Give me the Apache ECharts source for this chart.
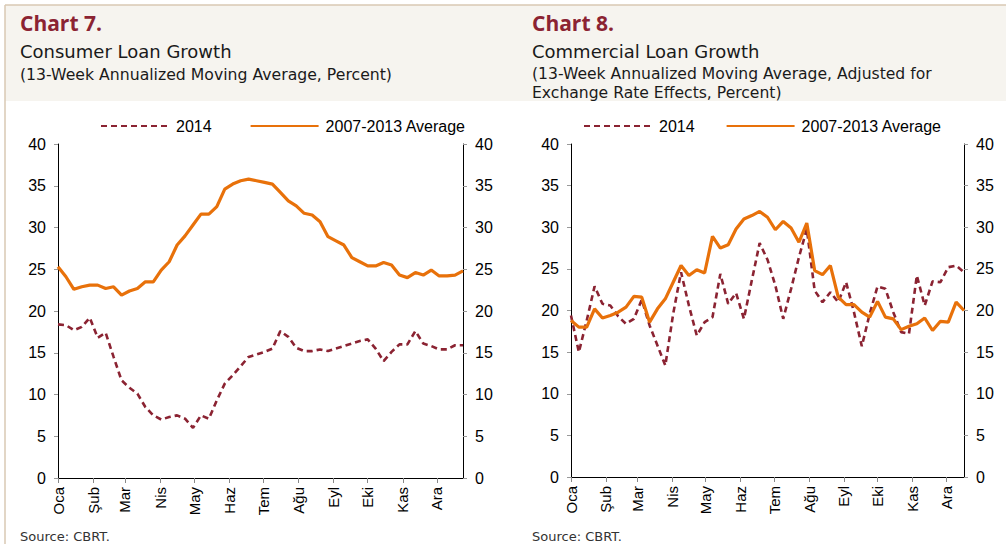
<!DOCTYPE html>
<html>
<head>
<meta charset="utf-8">
<script src="https://cdn.jsdelivr.net/npm/echarts@6/dist/echarts.min.js"></script>
<style>
  html, body { margin: 0; padding: 0; background: #fff; }
  #container { width: 1006px; height: 544px; }
</style>
</head>
<body>
<div id="container"></div>
<script>
// month tick positions in weeks from the first week of the year
const monthNames = ["Oca", "Şub", "Mar", "Nis", "May", "Haz", "Tem", "Ağu", "Eyl", "Eki", "Kas", "Ara"];
const monthWeeks = [0, 4.43, 8.43, 12.86, 17.14, 21.57, 25.86, 30.29, 34.71, 39, 43.43, 47.71];
const yTicks = [0, 5, 10, 15, 20, 25, 30, 35, 40];

// Chart 7 - consumer loans (52 weeks)
const consumer2014 = [18.4, 18.3, 17.7, 18.1, 19.2, 16.8, 17.4, 14.5, 11.7, 10.8,
  10.1, 8.5, 7.5, 7.0, 7.3, 7.5, 7.1, 6.0, 7.5, 7.1,
  9.3, 11.3, 12.3, 13.4, 14.5, 14.8, 15.1, 15.5, 17.6, 16.9,
  15.6, 15.2, 15.2, 15.4, 15.2, 15.5, 15.8, 16.1, 16.4, 16.6,
  15.5, 14.0, 15.1, 16.0, 16.0, 17.6, 16.1, 15.8, 15.4, 15.4,
  15.9, 15.9];
const consumerAvg = [25.3, 24.1, 22.6, 22.9, 23.1, 23.1, 22.7, 22.9, 21.9, 22.4,
  22.7, 23.5, 23.5, 24.9, 25.9, 27.9, 29.0, 30.3, 31.6, 31.6,
  32.5, 34.6, 35.2, 35.6, 35.8, 35.6, 35.4, 35.2, 34.2, 33.2,
  32.6, 31.7, 31.5, 30.7, 28.9, 28.4, 27.9, 26.4, 25.9, 25.4,
  25.4, 25.8, 25.5, 24.3, 24.0, 24.6, 24.3, 24.9, 24.2, 24.2,
  24.3, 24.8];

// Chart 8 - commercial loans (51 weeks)
const commercial2014 = [19.4, 15.0, 18.8, 22.9, 20.8, 20.6, 19.3, 18.4, 19.0, 21.3,
  18.2, 15.8, 13.4, 19.6, 24.6, 20.6, 17.0, 18.6, 19.2, 24.4,
  20.8, 22.1, 19.0, 23.6, 28.1, 26.1, 23.0, 19.0, 22.6, 26.4,
  29.8, 22.4, 21.0, 22.2, 21.0, 23.4, 19.8, 15.7, 19.6, 22.9,
  22.6, 19.8, 17.4, 17.2, 24.2, 20.6, 23.5, 23.4, 25.2, 25.4,
  24.6];
const commercialAvg = [18.8, 18.0, 18.0, 20.2, 19.1, 19.4, 19.8, 20.4, 21.7, 21.6,
  18.6, 20.2, 21.4, 23.4, 25.4, 24.2, 24.9, 24.5, 28.9, 27.5,
  27.9, 29.8, 31.0, 31.4, 31.9, 31.2, 29.7, 30.7, 29.9, 28.2,
  30.5, 24.8, 24.3, 25.4, 21.6, 20.7, 20.7, 19.8, 19.2, 21.1,
  19.2, 19.0, 17.7, 18.1, 18.4, 19.1, 17.6, 18.7, 18.6, 21.0,
  20.0];

const MAROON = "#8B2332";
const ORANGE = "#E8710A";
const TITLE_FONT = "'DejaVu Sans', sans-serif";
const BOLD_FONT = "'Open Sans', sans-serif";
const AXIS_FONT = "'Liberation Sans', Arial, sans-serif";

const dom = document.getElementById("container");
const myChart = echarts.init(dom, null, { renderer: "svg" });

function toPoints(values) {
  return values.map((v, i) => [i, v]);
}

function monthLabel(value) {
  let best = 0;
  monthWeeks.forEach((w, i) => {
    if (Math.abs(w - value) < Math.abs(monthWeeks[best] - value)) best = i;
  });
  return monthNames[best];
}

function xAxisFor(gridIndex, maxWeek) {
  return {
    type: "value",
    gridIndex: gridIndex,
    min: 0,
    max: maxWeek,
    splitLine: { show: false },
    axisLine: { lineStyle: { color: "#000", width: 1 } },
    axisTick: {
      customValues: monthWeeks,
      length: 5,
      lineStyle: { color: "#888" },
    },
    axisLabel: {
      customValues: monthWeeks,
      rotate: 90,
      margin: 9,
      color: "#000",
      fontFamily: AXIS_FONT,
      fontSize: 15,
      formatter: monthLabel,
    },
  };
}

function yAxisFor(gridIndex, position) {
  return {
    type: "value",
    gridIndex: gridIndex,
    position: position,
    min: 0,
    max: 40,
    interval: 5,
    splitLine: { show: false },
    axisLine: { show: true, lineStyle: { color: "#000", width: 1 } },
    axisTick: { show: true, length: 4, lineStyle: { color: "#999" } },
    axisLabel: {
      margin: 12,
      color: "#000",
      fontFamily: AXIS_FONT,
      fontSize: 16,
      customValues: yTicks,
    },
  };
}

function lineSeries(name, values, xIdx, yIdx, dashed) {
  return {
    name: name,
    type: "line",
    xAxisIndex: xIdx,
    yAxisIndex: yIdx,
    symbol: "none",
    showSymbol: false,
    silent: true,
    data: toPoints(values),
    lineStyle: dashed
      ? { color: MAROON, width: 2.6, type: [6, 4] }
      : { color: ORANGE, width: 3.2 },
    itemStyle: { color: dashed ? MAROON : ORANGE },
  };
}

function legendAt(left, gap) {
  return {
    left: left,
    top: 118,
    padding: 0,
    itemWidth: 68,
    itemHeight: 14,
    itemGap: gap,
    selectedMode: false,
    // hide the round marker, keep only the line sample
    itemStyle: { opacity: 0 },
    data: ["2014", "2007-2013 Average"],
    textStyle: { color: "#000", fontFamily: AXIS_FONT, fontSize: 16, padding: [0, 0, 0, 2] },
  };
}

function headerText(x, y, text, size, bold, color) {
  return {
    type: "text",
    x: x,
    y: y,
    style: {
      text: text,
      fill: color || "#1a1a1a",
      font: (bold ? "bold " + size + "px " + BOLD_FONT : size + "px " + TITLE_FONT),
      textVerticalAlign: "top",
    },
    silent: true,
  };
}

const option = {
  animation: false,
  backgroundColor: "#fff",
  graphic: [
    { type: "rect", shape: { x: 5, y: 5, width: 1001, height: 96 }, style: { fill: "#F6F4EF" }, silent: true },
    { type: "line", shape: { x1: 5, y1: 5, x2: 1006, y2: 5 }, style: { stroke: "#D9C9B3", lineWidth: 1.5 }, silent: true },
    { type: "line", shape: { x1: 5, y1: 5, x2: 5, y2: 544 }, style: { stroke: "#D9C9B3", lineWidth: 1.5 }, silent: true },
    headerText(20, 12, "Chart 7.", 21, true, MAROON),
    headerText(20, 42, "Consumer Loan Growth", 18, false),
    headerText(20, 66, "(13-Week Annualized Moving Average, Percent)", 15.7, false),
    headerText(532, 12, "Chart 8.", 21, true, MAROON),
    headerText(532, 42, "Commercial Loan Growth", 18, false),
    headerText(532, 66, "(13-Week Annualized Moving Average, Adjusted for", 15.6, false),
    headerText(532, 85, "Exchange Rate Effects, Percent)", 15.6, false),
    headerText(20, 530, "Source: CBRT.", 13, false, "#333"),
    headerText(532, 530, "Source: CBRT.", 13, false, "#333"),
  ],
  legend: [legendAt(100, 38), legendAt(583, 31)],
  grid: [
    { left: 58, right: 543, top: 144, bottom: 66 },
    { left: 571, right: 42, top: 144, bottom: 67 },
  ],
  xAxis: [xAxisFor(0, 51), xAxisFor(1, 50)],
  yAxis: [
    yAxisFor(0, "left"),
    yAxisFor(0, "right"),
    yAxisFor(1, "left"),
    yAxisFor(1, "right"),
  ],
  series: [
    lineSeries("2014", consumer2014, 0, 0, true),
    lineSeries("2007-2013 Average", consumerAvg, 0, 0, false),
    lineSeries("2014", commercial2014, 1, 2, true),
    lineSeries("2007-2013 Average", commercialAvg, 1, 2, false),
  ],
};

myChart.setOption(option);
window.addEventListener("resize", myChart.resize);
</script>
</body>
</html>
